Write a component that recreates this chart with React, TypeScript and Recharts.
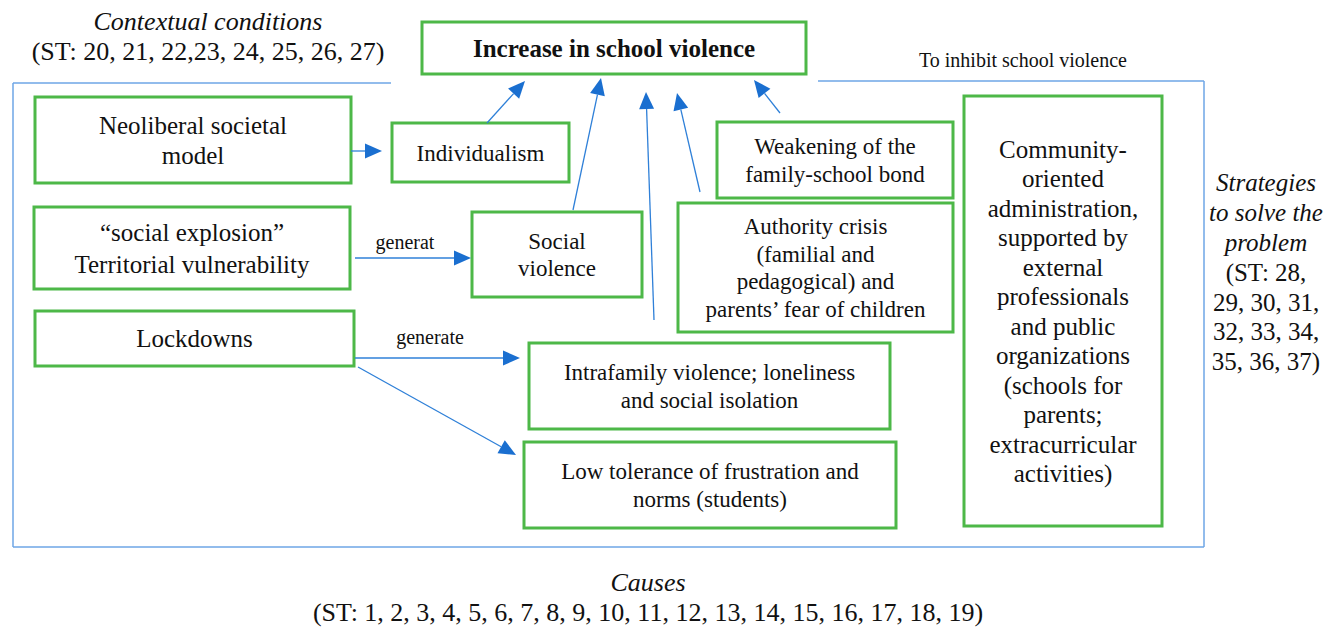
import React from "react";
import {
  ComposedChart,
  XAxis,
  YAxis,
  ReferenceArea,
  ReferenceLine,
  ReferenceDot,
} from "recharts";

const WIDTH = 1338;
const HEIGHT = 627;

const FONT = "Liberation Serif, Tinos, DejaVu Serif, serif";
const GREEN = "#4db848";
const FRAME_BLUE = "#6ea6e6";
const ARROW_BLUE = "#2f80d8";
const HEAD_BLUE = "#1a6fd0";

// boxes of the diagram (diagram units, y grows downwards)
const boxText: string[][] = [
  ["Increase in school violence"],
  ["Neoliberal societal", "model"],
  ["Individualism"],
  ["Weakening of the", "family-school bond"],
  [
    "Community-",
    "oriented",
    "administration,",
    "supported by",
    "external",
    "professionals",
    "and public",
    "organizations",
    "(schools for",
    "parents;",
    "extracurricular",
    "activities)",
  ],
  ["\u201csocial explosion\u201d", "Territorial vulnerability"],
  ["Social", "violence"],
  ["Authority crisis", "(familial and", "pedagogical) and", "parents\u2019 fear of children"],
  ["Lockdowns"],
  ["Intrafamily violence; loneliness", "and social isolation"],
  ["Low tolerance of frustration and", "norms (students)"],
];
const boxX: [number, number][] = [
  [422, 806],
  [35, 351],
  [392, 569],
  [717, 953],
  [964, 1162],
  [34, 350],
  [472, 642],
  [678, 953],
  [35, 354],
  [529, 890],
  [524, 896],
];
const boxY: [number, number][] = [
  [22, 74],
  [97, 183],
  [123, 182],
  [122, 198],
  [96, 526],
  [207, 289],
  [212, 297],
  [203, 332],
  [311, 366],
  [343, 429],
  [442, 528],
];

// free text around the diagram
const noteText: string[][] = [
  ["Contextual conditions", "(ST: 20, 21, 22,23, 24, 25, 26, 27)"],
  ["To inhibit school violence"],
  ["Strategies", "to solve the", "problem", "(ST: 28,", "29, 30, 31,", "32, 33, 34,", "35, 36, 37)"],
  ["Causes", "(ST: 1, 2, 3, 4, 5, 6, 7, 8, 9, 10, 11, 12, 13, 14, 15, 16, 17, 18, 19)"],
  ["generat"],
  ["generate"],
];
const noteAt: [number, number][] = [
  [208, 36],
  [1023, 60],
  [1266, 272],
  [648, 597],
  [405, 242],
  [430, 337],
];
const noteItalic: number[][] = [[0], [], [0, 1, 2], [0], [], []];

// arrows: tail -> tip
const arrowFrom: [number, number][] = [
  [351, 151],
  [487, 123],
  [573, 210],
  [654, 320],
  [700, 192],
  [780, 113],
  [355, 258],
  [355, 358],
  [358, 367],
];
const arrowTo: [number, number][] = [
  [382, 151],
  [525, 81],
  [601, 78],
  [646, 92],
  [677, 93],
  [754, 80],
  [471, 258],
  [520, 358],
  [516, 455],
];

// blue frame around the causes
const frameFrom: [number, number][] = [
  [13, 83],
  [13, 83],
  [13, 547],
  [1204, 81],
  [818, 81],
];
const frameTo: [number, number][] = [
  [391, 83],
  [13, 547],
  [1204, 547],
  [1204, 547],
  [1204, 81],
];

const boxStyle = (i: number) => {
  if (i === 0) return { size: 25, lh: 29, bold: true };
  if ([1, 4, 5, 8].includes(i)) return { size: 25, lh: i === 5 ? 32 : 29.5, bold: false };
  return { size: 23, lh: 27.5, bold: false };
};

const noteStyle = (i: number) => {
  if (i === 1 || i >= 4) return { size: 20, lh: 24 };
  if (i === 2) return { size: 25, lh: 29.8 };
  return { size: 26, lh: 30 };
};

function textBlock(
  lines: string[],
  cx: number,
  cy: number,
  size: number,
  lh: number,
  bold: boolean,
  italic: number[]
) {
  const top = cy - ((lines.length - 1) * lh) / 2;
  return (
    <text
      textAnchor="middle"
      fontFamily={FONT}
      fontSize={size}
      fontWeight={bold ? "bold" : "normal"}
      fill="#111"
      style={{ fontFamily: FONT }}
    >
      {lines.map((l, i) => (
        <tspan
          key={i}
          x={cx}
          y={top + i * lh}
          dy="0.35em"
          fontStyle={italic.includes(i) ? "italic" : "normal"}
        >
          {l}
        </tspan>
      ))}
    </text>
  );
}

const arrowShape = (p: any) => {
  const { x1, y1, x2, y2 } = p;
  const ang = Math.atan2(y2 - y1, x2 - x1);
  const len = 17;
  const half = 7.5;
  const bx = x2 - len * Math.cos(ang);
  const by = y2 - len * Math.sin(ang);
  const px = -Math.sin(ang) * half;
  const py = Math.cos(ang) * half;
  return (
    <g>
      <line x1={x1} y1={y1} x2={bx} y2={by} stroke={ARROW_BLUE} strokeWidth={1.3} />
      <polygon
        points={`${x2},${y2} ${bx + px},${by + py} ${bx - px},${by - py}`}
        fill={HEAD_BLUE}
      />
    </g>
  );
};

export default function App() {
  return (
    <div style={{ position: "absolute", left: 0, top: 0, width: WIDTH, height: HEIGHT, background: "#fff" }}>
      <ComposedChart
        width={WIDTH}
        height={HEIGHT}
        data={[]}
        margin={{ top: 0, right: 0, bottom: 0, left: 0 }}
        style={{ fontFamily: FONT }}
      >
        <XAxis type="number" dataKey="x" domain={[0, WIDTH]} hide allowDataOverflow />
        <YAxis type="number" dataKey="y" domain={[0, HEIGHT]} reversed hide allowDataOverflow />

        {frameFrom.map((f, i) => (
          <ReferenceLine
            key={`frame-${i}`}
            segment={[
              { x: f[0], y: f[1] },
              { x: frameTo[i][0], y: frameTo[i][1] },
            ]}
            stroke={FRAME_BLUE}
            strokeWidth={1.5}
            ifOverflow="visible"
          />
        ))}

        {arrowFrom.map((f, i) => (
          <ReferenceLine
            key={`arrow-${i}`}
            segment={[
              { x: f[0], y: f[1] },
              { x: arrowTo[i][0], y: arrowTo[i][1] },
            ]}
            shape={arrowShape}
            ifOverflow="visible"
          />
        ))}

        {boxText.map((lines, i) => {
          const st = boxStyle(i);
          return (
            <ReferenceArea
              key={`box-${i}`}
              x1={boxX[i][0]}
              x2={boxX[i][1]}
              y1={boxY[i][0]}
              y2={boxY[i][1]}
              fill="#fff"
              fillOpacity={1}
              stroke={GREEN}
              strokeWidth={3}
              ifOverflow="visible"
              label={(p: any) => {
                const vb = p.viewBox;
                return textBlock(
                  lines,
                  vb.x + vb.width / 2,
                  vb.y + vb.height / 2,
                  st.size,
                  st.lh,
                  st.bold,
                  []
                );
              }}
            />
          );
        })}

        {noteText.map((lines, i) => {
          const st = noteStyle(i);
          return (
            <ReferenceDot
              key={`note-${i}`}
              x={noteAt[i][0]}
              y={noteAt[i][1]}
              r={0}
              fill="none"
              stroke="none"
              ifOverflow="visible"
              label={(p: any) => {
                const vb = p.viewBox;
                return textBlock(
                  lines,
                  vb.x + vb.width / 2,
                  vb.y + vb.height / 2,
                  st.size,
                  st.lh,
                  false,
                  noteItalic[i]
                );
              }}
            />
          );
        })}
      </ComposedChart>
    </div>
  );
}
